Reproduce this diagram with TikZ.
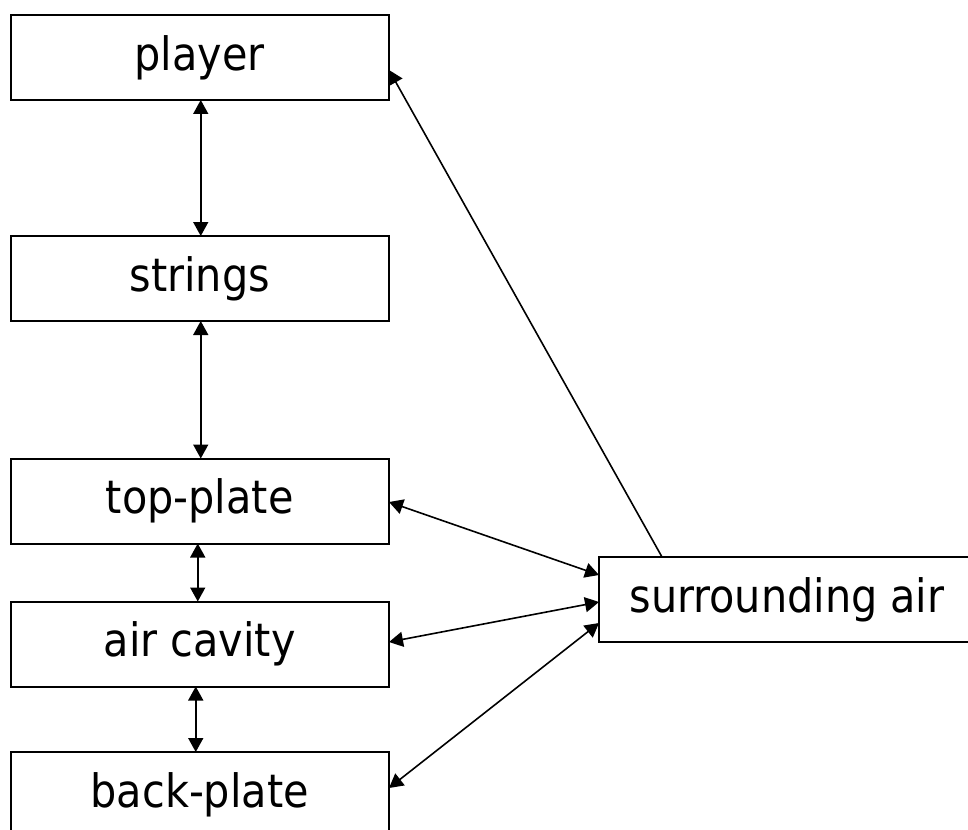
\documentclass[tikz,border=0pt]{standalone}
\usepackage{fontspec}
\setmainfont{DejaVu Sans Condensed}
\usetikzlibrary{arrows.meta}
\tikzset{
  box/.style={draw=black, line width=2pt, fill=white, minimum height=85pt, inner sep=0pt, outer sep=0pt,
    font=\fontsize{46}{50}\selectfont},
  link/.style={line width=1.6pt, {Triangle[length=14pt,width=15pt]}-{Triangle[length=14pt,width=15pt]}},
  onelink/.style={line width=1.6pt, -{Triangle[length=14pt,width=15pt]}}
}
\begin{document}
\begin{tikzpicture}[x=1pt,y=-1pt]
\useasboundingbox (0,0) rectangle (968,829);
\clip (0,0) rectangle (968,829);
\node[box, minimum width=378.5pt] (player) at (199.75,57.5) {player};
\node[box, minimum width=378.5pt] (strings) at (199.75,278.5) {strings};
\node[box, minimum width=378.5pt] (top) at (199.75,501) {top-plate};
\node[box, minimum width=378.5pt] (air) at (199.75,644) {air cavity};
\node[box, minimum width=378.5pt] (back) at (199.75,794.5) {back-plate};
\node[box, minimum width=376pt] (surr) at (787,599.5) {surrounding air};

\draw[link] ([xshift=1pt]player.south) -- ([xshift=1pt]strings.north);
\draw[link] ([xshift=1pt]strings.south) -- ([xshift=1pt]top.north);
\draw[link] ([xshift=-2pt]top.south) -- ([xshift=-2pt]air.north);
\draw[link] ([xshift=-4pt]air.south) -- ([xshift=-4pt]back.north);

\draw[onelink] ([xshift=63pt]surr.north west) -- ([yshift=-12.5pt]player.east);
\draw[link] ([yshift=-1pt]top.east) -- ([yshift=24.5pt]surr.west);
\draw[link] ([yshift=2pt]air.east) -- ([yshift=-2.5pt]surr.west);
\draw[link] ([yshift=6.5pt]back.east) -- ([yshift=-23.5pt]surr.west);
\end{tikzpicture}
\end{document}
